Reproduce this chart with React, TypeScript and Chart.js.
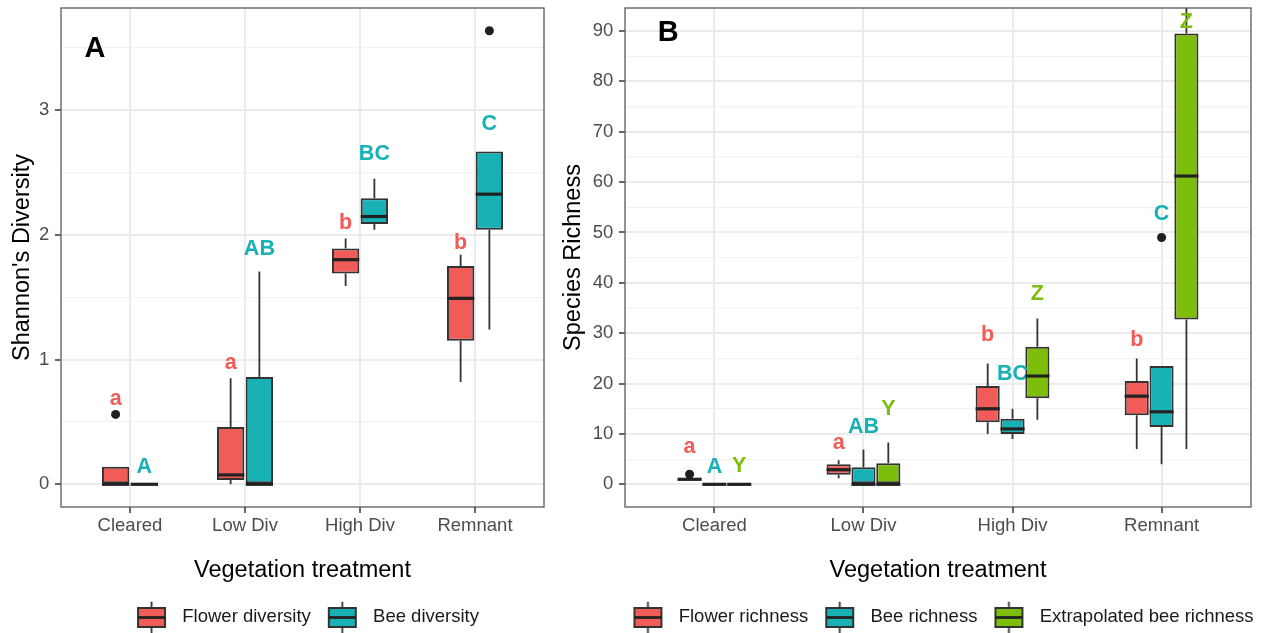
import React, { useEffect, useRef } from 'react';
import { Chart, registerables } from 'chart.js';

Chart.register(...registerables);

const FONT = "'Liberation Sans', Arial, Helvetica, sans-serif";

const categories = ['Cleared', 'Low Div', 'High Div', 'Remnant'];

// ---------- Panel A: Shannon's diversity ----------
const flowerDivMin = [0, 0, 1.59, 0.82];
const flowerDivQ1 = [0, 0.035, 1.69, 1.15];
const flowerDivMedian = [0, 0.075, 1.8, 1.49];
const flowerDivQ3 = [0.14, 0.46, 1.89, 1.75];
const flowerDivMax = [0.14, 0.85, 1.97, 1.84];
const flowerDivOutliers = [[0.56], [], [], []];
const flowerDivLetters = ['a', 'a', 'b', 'b'];
const flowerDivLetterY = [0.68, 0.97, 2.09, 1.93];

const beeDivMin = [0, 0, 2.04, 1.24];
const beeDivQ1 = [0, 0, 2.085, 2.04];
const beeDivMedian = [0, 0, 2.146, 2.325];
const beeDivQ3 = [0, 0.86, 2.293, 2.667];
const beeDivMax = [0, 1.705, 2.448, 2.667];
const beeDivOutliers = [[], [], [], [3.635]];
const beeDivLetters = ['A', 'AB', 'BC', 'C'];
const beeDivLetterY = [0.14, 1.885, 2.65, 2.89];

const yTicksA = [0, 0.5, 1, 1.5, 2, 2.5, 3, 3.5];

// ---------- Panel B: species richness ----------
const flowerRichMin = [1, 1.2, 10, 7];
const flowerRichQ1 = [1, 1.9, 12.3, 13.7];
const flowerRichMedian = [1, 2.9, 15, 17.5];
const flowerRichQ3 = [1.2, 4, 19.5, 20.5];
const flowerRichMax = [1.2, 4.8, 24, 25];
const flowerRichOutliers = [[2], [], [], []];
const flowerRichLetters = ['a', 'a', 'b', 'b'];
const flowerRichLetterY = [7.3, 8.25, 29.6, 28.6];

const beeRichMin = [0, 0, 9, 4];
const beeRichQ1 = [0, 0, 10, 11.4];
const beeRichMedian = [0, 0, 11, 14.4];
const beeRichQ3 = [0, 3.4, 13, 23.5];
const beeRichMax = [0, 6.9, 15, 23.5];
const beeRichOutliers = [[], [], [], [49]];
const beeRichLetters = ['A', 'AB', 'BC', 'C'];
const beeRichLetterY = [3.5, 11.4, 21.8, 53.6];

const extraRichMin = [0, 0, 12.8, 7];
const extraRichQ1 = [0, 0, 17.1, 32.7];
const extraRichMedian = [0, 0, 21.5, 61.2];
const extraRichQ3 = [0, 4.2, 27.3, 89.5];
const extraRichMax = [0, 8.3, 32.9, 100];
const extraRichOutliers = [[], [], [], []];
const extraRichLetters = ['Y', 'Y', 'Z', 'Z'];
const extraRichLetterY = [3.6, 14.9, 37.8, 91.8];

const yTicksB = [0, 5, 10, 15, 20, 25, 30, 35, 40, 45, 50, 55, 60, 65, 70, 75, 80, 85, 90];

const RED = '#F15B58';
const TEAL = '#18B1B5';
const GREEN = '#7DBE0D';

type Series = {
  label: string;
  color: string;
  min: number[];
  q1: number[];
  median: number[];
  q3: number[];
  max: number[];
  outliers: number[][];
  letters: string[];
  letterY: number[];
};

const seriesA: Series[] = [
  { label: 'Flower diversity', color: RED, min: flowerDivMin, q1: flowerDivQ1, median: flowerDivMedian, q3: flowerDivQ3, max: flowerDivMax, outliers: flowerDivOutliers, letters: flowerDivLetters, letterY: flowerDivLetterY },
  { label: 'Bee diversity', color: TEAL, min: beeDivMin, q1: beeDivQ1, median: beeDivMedian, q3: beeDivQ3, max: beeDivMax, outliers: beeDivOutliers, letters: beeDivLetters, letterY: beeDivLetterY },
];

const seriesB: Series[] = [
  { label: 'Flower richness', color: RED, min: flowerRichMin, q1: flowerRichQ1, median: flowerRichMedian, q3: flowerRichQ3, max: flowerRichMax, outliers: flowerRichOutliers, letters: flowerRichLetters, letterY: flowerRichLetterY },
  { label: 'Bee richness', color: TEAL, min: beeRichMin, q1: beeRichQ1, median: beeRichMedian, q3: beeRichQ3, max: beeRichMax, outliers: beeRichOutliers, letters: beeRichLetters, letterY: beeRichLetterY },
  { label: 'Extrapolated bee richness', color: GREEN, min: extraRichMin, q1: extraRichQ1, median: extraRichMedian, q3: extraRichQ3, max: extraRichMax, outliers: extraRichOutliers, letters: extraRichLetters, letterY: extraRichLetterY },
];

function makeKey(color: string): HTMLCanvasElement {
  const c = document.createElement('canvas');
  c.width = 47;
  c.height = 32;
  const g = c.getContext('2d')!;
  const x0 = 11, w = 29, top = 6, h = 21, cx = x0 + w / 2;
  g.strokeStyle = '#333';
  g.lineWidth = 1.8;
  g.beginPath();
  g.moveTo(cx, 0);
  g.lineTo(cx, top);
  g.moveTo(cx, top + h);
  g.lineTo(cx, 32);
  g.stroke();
  g.fillStyle = color;
  g.fillRect(x0, top, w, h);
  g.lineWidth = 2;
  g.strokeRect(x0 + 1, top + 1, w - 2, h - 2);
  g.lineWidth = 2.8;
  g.strokeStyle = '#222';
  g.beginPath();
  g.moveTo(x0 + 1, top + h / 2);
  g.lineTo(x0 + w - 1, top + h / 2);
  g.stroke();
  return c;
}

function boxPlugin(series: Series[], tag: string, tagX: number, tagY: number) {
  return {
    id: 'boxExtras',
    beforeDatasetsDraw(chart: any) {
      const { ctx, chartArea: a } = chart;
      const ys = chart.scales.y;
      ctx.save();
      ctx.beginPath();
      ctx.rect(a.left, a.top, a.right - a.left, a.bottom - a.top);
      ctx.clip();
      ctx.strokeStyle = '#333';
      ctx.lineWidth = 1.8;
      series.forEach((s, i) => {
        const meta = chart.getDatasetMeta(i);
        meta.data.forEach((bar: any, j: number) => {
          ctx.beginPath();
          ctx.moveTo(bar.x, ys.getPixelForValue(s.max[j]));
          ctx.lineTo(bar.x, ys.getPixelForValue(s.q3[j]));
          ctx.moveTo(bar.x, ys.getPixelForValue(s.q1[j]));
          ctx.lineTo(bar.x, ys.getPixelForValue(s.min[j]));
          ctx.stroke();
        });
      });
      ctx.restore();
    },
    afterDatasetsDraw(chart: any) {
      const { ctx, chartArea: a } = chart;
      const ys = chart.scales.y;
      ctx.save();
      ctx.beginPath();
      ctx.rect(a.left, a.top, a.right - a.left, a.bottom - a.top);
      ctx.clip();
      series.forEach((s, i) => {
        const meta = chart.getDatasetMeta(i);
        meta.data.forEach((bar: any, j: number) => {
          const half = bar.width / 2;
          const ym = ys.getPixelForValue(s.median[j]);
          ctx.strokeStyle = '#222';
          ctx.lineWidth = 3.2;
          ctx.beginPath();
          ctx.moveTo(bar.x - half, ym);
          ctx.lineTo(bar.x + half, ym);
          ctx.stroke();
          ctx.fillStyle = '#1f1f1f';
          s.outliers[j].forEach((v) => {
            ctx.beginPath();
            ctx.arc(bar.x, ys.getPixelForValue(v), 4.5, 0, Math.PI * 2);
            ctx.fill();
          });
          ctx.fillStyle = s.color;
          ctx.font = `bold 21.5px ${FONT}`;
          ctx.textAlign = 'center';
          ctx.textBaseline = 'middle';
          ctx.fillText(s.letters[j], bar.x, ys.getPixelForValue(s.letterY[j]));
        });
      });
      ctx.restore();
    },
    afterDraw(chart: any) {
      const { ctx, chartArea: a } = chart;
      ctx.save();
      ctx.strokeStyle = '#5a5a5a';
      ctx.lineWidth = 1.3;
      ctx.strokeRect(a.left, a.top, a.right - a.left, a.bottom - a.top);
      ctx.fillStyle = '#000';
      ctx.font = `bold 29px ${FONT}`;
      ctx.textAlign = 'center';
      ctx.textBaseline = 'middle';
      ctx.fillText(tag, chart.scales.x.getPixelForValue(tagX), chart.scales.y.getPixelForValue(tagY));
      ctx.restore();
    },
  };
}

type PanelOpts = {
  yTitle: string; yMin: number; yMax: number; yTicks: number[]; isMajor: (v: number) => boolean;
  padLeft: number; axisWidth: number; titlePadTop: number; padRight: number; rightAxisWidth: number;
  legendFull: boolean; barPct: number; tag: string; tagX: number; tagY: number;
};

function buildChart(canvas: HTMLCanvasElement, series: Series[], opts: PanelOpts) {
  const keys = series.map((s) => makeKey(s.color));
  const scales: any = {
    x: {
      type: 'linear',
      min: 0.4,
      max: 4.6,
      offset: false,
      afterBuildTicks: (s: any) => {
        s.ticks = categories.map((_, i) => ({ value: i + 1 }));
      },
      afterFit: (s: any) => {
        s.height = 94.75;
        s.paddingLeft = 0;
        s.paddingRight = 0;
      },
      ticks: {
        autoSkip: false,
        maxRotation: 0,
        padding: 2,
        color: '#4D4D4D',
        font: { size: 18.5, family: FONT },
        callback: (v: any) => categories[Math.round(Number(v)) - 1] ?? '',
      },
      grid: { offset: false, color: '#EBEBEB', lineWidth: 2, tickColor: '#333', tickLength: 6, tickWidth: 1.5 },
      border: { display: false },
      title: {
        display: true,
        text: 'Vegetation treatment',
        color: '#000',
        font: { size: 23.5, family: FONT },
        padding: { top: 0, bottom: 16.65 },
      },
    },
    y: {
      type: 'linear',
      position: 'left',
      min: opts.yMin,
      max: opts.yMax,
      afterBuildTicks: (s: any) => {
        s.ticks = opts.yTicks.map((v) => ({ value: v }));
      },
      afterFit: (s: any) => {
        s.width = opts.axisWidth;
        s.paddingTop = 0;
        s.paddingBottom = 0;
      },
      ticks: {
        padding: 5.7,
        color: '#4D4D4D',
        font: { size: 18.5, family: FONT },
        callback: (v: any) => (opts.isMajor(Number(v)) ? String(v) : ''),
      },
      grid: {
        color: (c: any) => (opts.isMajor(c.tick?.value) ? '#EBEBEB' : '#F1F1F1'),
        lineWidth: (c: any) => (opts.isMajor(c.tick?.value) ? 2 : 1.2),
        tickColor: (c: any) => (opts.isMajor(c.tick?.value) ? '#333' : 'rgba(0,0,0,0)'),
        tickLength: 6,
        tickWidth: 1.5,
      },
      border: { display: false },
      title: {
        display: true,
        text: opts.yTitle,
        color: '#000',
        font: { size: 23.5, family: FONT },
        padding: { top: opts.titlePadTop, bottom: 0 },
      },
    },
  };
  if (opts.rightAxisWidth > 0) {
    scales.yRight = {
      type: 'linear',
      position: 'right',
      min: 0,
      max: 1,
      ticks: { display: false },
      grid: { display: false, drawTicks: false },
      border: { display: false },
      afterFit: (s: any) => {
        s.width = opts.rightAxisWidth;
        s.paddingTop = 0;
        s.paddingBottom = 0;
      },
    };
  }
  return new Chart(canvas, {
    type: 'bar',
    data: {
      datasets: series.map((s) => ({
        label: s.label,
        yAxisID: 'y',
        data: categories.map((_, i) => ({ x: i + 1, y: [s.q1[i], s.q3[i]] })),
        backgroundColor: s.color,
        borderColor: '#333',
        borderWidth: 2,
        borderSkipped: false,
        categoryPercentage: 0.5,
        barPercentage: opts.barPct,
      })) as any,
    },
    options: {
      animation: false,
      responsive: false,
      events: [],
      layout: { padding: { left: opts.padLeft, right: opts.padRight, top: 8, bottom: 0 } },
      plugins: {
        tooltip: { enabled: false },
        legend: {
          position: 'bottom',
          fullSize: opts.legendFull,
          maxHeight: 31.25,
          labels: {
            usePointStyle: true,
            pointStyleWidth: 47,
            padding: 6,
            color: '#1a1a1a',
            font: { size: 18.5, family: FONT },
            generateLabels: () =>
              series.map((s, i) => ({
                text: s.label,
                pointStyle: keys[i],
                fillStyle: s.color,
                strokeStyle: '#333',
                lineWidth: 0,
                hidden: false,
                datasetIndex: i,
                fontColor: '#1a1a1a',
              })) as any,
          },
        },
      },
      scales,
    } as any,
    plugins: [boxPlugin(series, opts.tag, opts.tagX, opts.tagY)],
  });
}

export default function App() {
  const refA = useRef<HTMLCanvasElement>(null);
  const refB = useRef<HTMLCanvasElement>(null);

  useEffect(() => {
    Chart.defaults.font.family = FONT;
    const a = buildChart(refA.current!, seriesA, {
      yTitle: "Shannon's Diversity",
      yMin: -0.182,
      yMax: 3.817,
      yTicks: yTicksA,
      isMajor: (v) => Number.isInteger(v),
      padLeft: 0,
      axisWidth: 61,
      titlePadTop: 8.5,
      padRight: 13,
      rightAxisWidth: 0,
      legendFull: false,
      barPct: 0.95,
      tag: 'A',
      tagX: 0.696,
      tagY: 3.49,
    });
    const b = buildChart(refB.current!, seriesB, {
      yTitle: 'Species Richness',
      yMin: -4.5,
      yMax: 94.56,
      yTicks: yTicksB,
      isMajor: (v) => v % 10 === 0,
      padLeft: 30,
      axisWidth: 38,
      titlePadTop: -27.5,
      padRight: 0,
      rightAxisWidth: 38,
      legendFull: true,
      barPct: 0.97,
      tag: 'B',
      tagX: 0.69,
      tagY: 89.6,
    });
    return () => {
      a.destroy();
      b.destroy();
    };
  }, []);

  return (
    <div style={{ position: 'fixed', left: 0, top: 0, width: 1263, height: 633, background: '#fff', overflow: 'hidden' }}>
      <canvas ref={refA} width={557} height={633} style={{ position: 'absolute', left: 0, top: 0 }} />
      <canvas ref={refB} width={732} height={633} style={{ position: 'absolute', left: 557, top: 0 }} />
    </div>
  );
}
